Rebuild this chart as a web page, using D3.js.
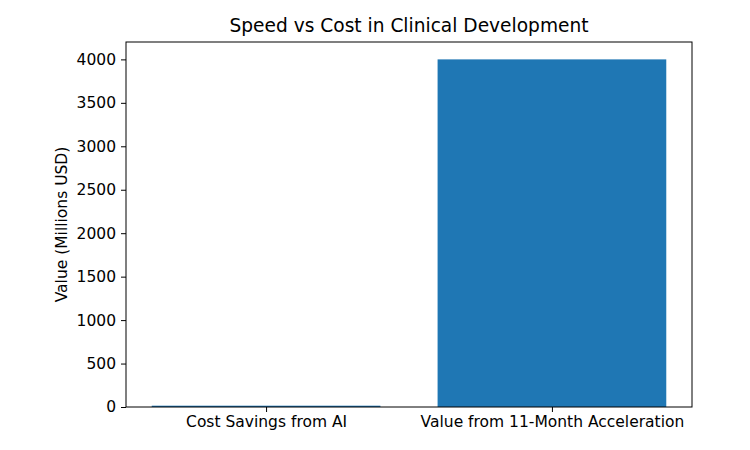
<!DOCTYPE html>
<html>
<head>
<meta charset="utf-8">
<script src="https://cdn.jsdelivr.net/npm/d3@7"></script>
<style>
  body { margin: 0; background: #fff; }
  text { font-family: "DejaVu Sans", sans-serif; fill: #000; }
</style>
</head>
<body>
<svg id="chart" width="750" height="450"></svg>
<script>
const categories = ["Cost Savings from AI", "Value from 11-Month Acceleration"];
const values = [15, 4000];
const yTicks = [0, 500, 1000, 1500, 2000, 2500, 3000, 3500, 4000];

const WIDTH = 750;
const HEIGHT = 450;
const margin = { left: 126, right: 58, top: 42, bottom: 43 };
const TICK_FONT = "15.5px";

const svg = d3.select("#chart");

const x = d3.scaleLinear()
  .domain([-0.49, categories.length - 1 + 0.49])
  .range([margin.left, WIDTH - margin.right]);

const y = d3.scaleLinear()
  .domain([0, 4200])
  .range([HEIGHT - margin.bottom, margin.top]);

svg.selectAll("rect.bar")
  .data(values)
  .enter()
  .append("rect")
  .attr("class", "bar")
  .attr("x", (d, i) => x(i - 0.4))
  .attr("width", (d, i) => x(i + 0.4) - x(i - 0.4))
  .attr("y", d => y(d))
  .attr("height", d => y(0) - y(d))
  .attr("fill", "#1f77b4");

// y axis
const yAxis = svg.append("g")
  .attr("transform", "translate(" + margin.left + ",0)")
  .call(d3.axisLeft(y).tickValues(yTicks).tickFormat(d3.format("d")).tickSize(5).tickPadding(5));
yAxis.select(".domain").remove();
yAxis.selectAll("text").style("font-size", TICK_FONT).style("font-family", "DejaVu Sans");

// x axis
const xAxis = svg.append("g")
  .attr("transform", "translate(0," + (HEIGHT - margin.bottom) + ")")
  .call(d3.axisBottom(x).tickValues(categories.map((c, i) => i))
    .tickFormat(i => categories[i]).tickSize(5).tickPadding(4));
xAxis.select(".domain").remove();
xAxis.selectAll("text").style("font-size", TICK_FONT).style("font-family", "DejaVu Sans");

// frame
svg.append("rect")
  .attr("x", margin.left)
  .attr("y", margin.top)
  .attr("width", WIDTH - margin.left - margin.right)
  .attr("height", HEIGHT - margin.top - margin.bottom)
  .attr("fill", "none")
  .attr("stroke", "#000")
  .attr("stroke-width", 1);

svg.append("text")
  .attr("x", (margin.left + WIDTH - margin.right) / 2)
  .attr("y", margin.top - 10)
  .attr("text-anchor", "middle")
  .style("font-size", "18.6px")
  .text("Speed vs Cost in Clinical Development");

svg.append("text")
  .attr("transform", "translate(67," + ((margin.top + HEIGHT - margin.bottom) / 2) + ") rotate(-90)")
  .attr("text-anchor", "middle")
  .style("font-size", TICK_FONT)
  .text("Value (Millions USD)");
</script>
</body>
</html>
